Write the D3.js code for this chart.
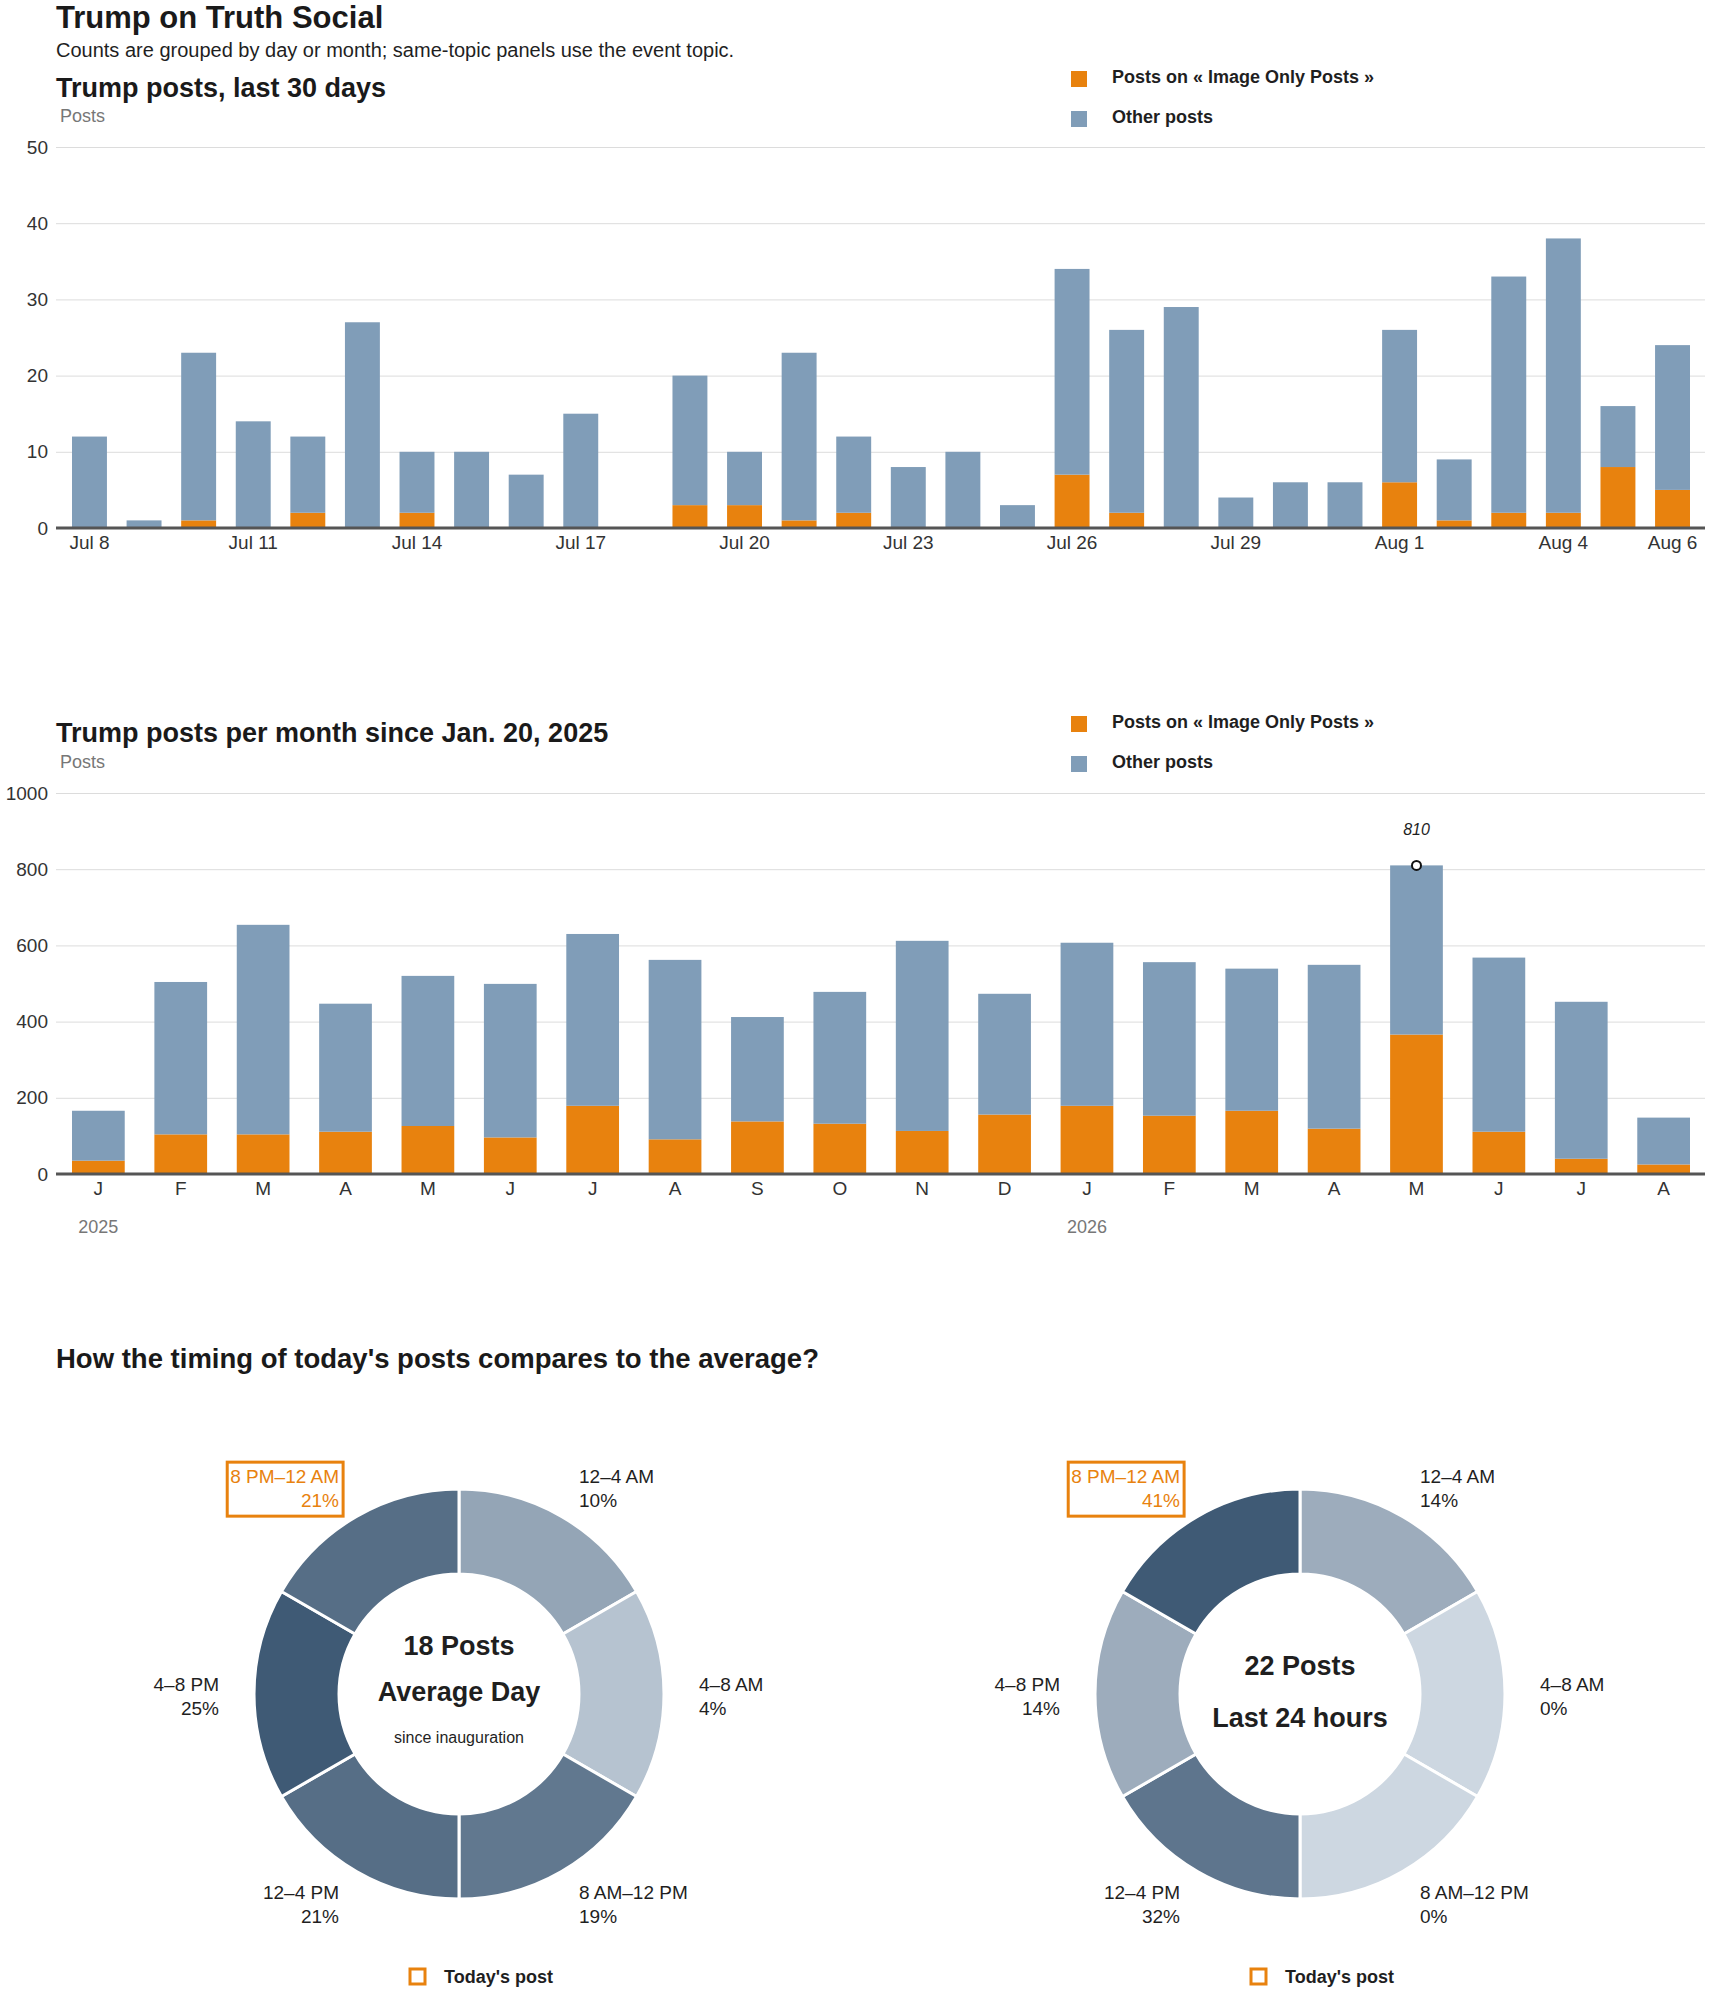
<!DOCTYPE html>
<html>
<head>
<meta charset="utf-8">
<script src="https://cdn.jsdelivr.net/npm/d3@7"></script>
<style>
  body { margin: 0; background: #fff; }
  text { font-family: "Liberation Sans", Arial, sans-serif; fill: #1f1f1f; }
  .head { font-weight: bold; fill: #1a1a1a; }
  .axis-label { fill: #777; font-size: 18px; }
  .tick text { fill: #333; font-size: 19px; }
  .legend text { font-weight: bold; font-size: 18px; }
</style>
</head>
<body>
<div id="chart"></div>
<script>

// last 30 days
var dayLabels = ["Jul 8", "Jul 9", "Jul 10", "Jul 11", "Jul 12", "Jul 13", "Jul 14", "Jul 15", "Jul 16", "Jul 17",
    "Jul 18", "Jul 19", "Jul 20", "Jul 21", "Jul 22", "Jul 23", "Jul 24", "Jul 25", "Jul 26", "Jul 27",
    "Jul 28", "Jul 29", "Jul 30", "Jul 31", "Aug 1", "Aug 2", "Aug 3", "Aug 4", "Aug 5", "Aug 6"];
var dayTicks = ["Jul 8", "Jul 11", "Jul 14", "Jul 17", "Jul 20", "Jul 23", "Jul 26", "Jul 29", "Aug 1", "Aug 4", "Aug 6"];
var dayTopic = [0, 0, 1, 0, 2, 0, 2, 0, 0, 0, 0, 3, 3, 1, 2, 0, 0, 0, 7, 2, 0, 0, 0, 0, 6, 1, 2, 2, 8, 5];
var dayTotal = [12, 1, 23, 14, 12, 27, 10, 10, 7, 15, 0, 20, 10, 23, 12, 8, 10, 3, 34, 26, 29, 4, 6, 6, 26, 9, 33, 38, 16, 24];

// per month since inauguration
var monthKeys = ["2025-01", "2025-02", "2025-03", "2025-04", "2025-05", "2025-06", "2025-07", "2025-08", "2025-09", "2025-10",
    "2025-11", "2025-12", "2026-01", "2026-02", "2026-03", "2026-04", "2026-05", "2026-06", "2026-07", "2026-08"];
var monthLetters = ["J", "F", "M", "A", "M", "J", "J", "A", "S", "O", "N", "D", "J", "F", "M", "A", "M", "J", "J", "A"];
var yearKeys = ["2025-01", "2026-01"];
var yearText = ["2025", "2026"];
var monthTopic = [35, 104, 104, 111, 126, 96, 179, 91, 138, 132, 113, 156, 179, 153, 166, 119, 366, 111, 40, 25];
var monthTotal = [166, 504, 654, 447, 520, 499, 630, 562, 412, 478, 612, 473, 607, 556, 539, 549, 810, 568, 452, 148];

// 4-hour slots for the donuts
var slotLabels = ["12–4 AM", "4–8 AM", "8 AM–12 PM", "12–4 PM", "4–8 PM", "8 PM–12 AM"];
var avgPct = [10, 4, 19, 21, 25, 21];
var todayPct = [14, 0, 0, 32, 14, 41];
var todaySlot = "8 PM–12 AM";

var legendText = ["Posts on « Image Only Posts »", "Other posts"];

var orange = "#e8820e";
var blue = "#809db8";

var svgWidth = 1710;
var svgHeight = 1993;
var plotLeft = 56;
var plotRight = 1705;

var svg = d3.select("#chart")
    .append("svg")
    .attr("width", svgWidth)
    .attr("height", svgHeight);

// headings
svg.append("text").attr("class", "head").attr("x", 56).attr("y", 28)
    .style("font-size", "31px").text("Trump on Truth Social");
svg.append("text").attr("x", 56).attr("y", 57).style("font-size", "20px")
    .text("Counts are grouped by day or month; same-topic panels use the event topic.");
svg.append("text").attr("class", "head").attr("x", 56).attr("y", 97)
    .style("font-size", "27px").text("Trump posts, last 30 days");
svg.append("text").attr("class", "axis-label").attr("x", 60).attr("y", 122).text("Posts");

svg.append("text").attr("class", "head").attr("x", 56).attr("y", 742)
    .style("font-size", "27px").text("Trump posts per month since Jan. 20, 2025");
svg.append("text").attr("class", "axis-label").attr("x", 60).attr("y", 768).text("Posts");

svg.append("text").attr("class", "head").attr("x", 56).attr("y", 1368)
    .style("font-size", "27.5px").text("How the timing of today's posts compares to the average?");

// legend next to each bar chart
function drawLegend(top) {
    var legend = svg.append("g").attr("class", "legend");
    legendText.forEach(function(t, i) {
        legend.append("rect")
            .attr("x", 1071).attr("y", top + i * 40)
            .attr("width", 16).attr("height", 16)
            .attr("fill", i === 0 ? orange : blue);
        legend.append("text")
            .attr("x", 1112).attr("y", top + i * 40 + 12)
            .text(t);
    });
}

// stacked bars: topic posts at the bottom, other posts on top
function drawStacked(keys, topic, total, yMax, yStep, yTop, yZero, tickValues, tickText) {
    var rows = keys.map(function(k, i) {
        return { key: k, topic: topic[i], other: total[i] - topic[i] };
    });
    var series = d3.stack().keys(["topic", "other"])(rows);

    var x = d3.scaleBand()
        .domain(keys)
        .range([72, 1690])
        .paddingInner(0.36)
        .paddingOuter(0);

    var y = d3.scaleLinear()
        .domain([0, yMax])
        .range([yZero, yTop]);

    var yAxis = svg.append("g")
        .attr("transform", `translate(${plotLeft}, 0)`)
        .call(d3.axisLeft(y)
            .tickValues(d3.range(0, yMax + 1, yStep))
            .tickFormat(d3.format("d"))
            .tickSize(-(plotRight - plotLeft))
            .tickPadding(8));
    yAxis.attr("font-size", null).attr("font-family", null);
    yAxis.select(".domain").remove();
    yAxis.selectAll("line").attr("stroke", "#dcdcdc");

    svg.append("g")
        .selectAll("g")
        .data(series)
        .enter()
        .append("g")
        .attr("fill", d => d.key === "topic" ? orange : blue)
        .selectAll("rect")
        .data(d => d)
        .enter()
        .append("rect")
        .attr("x", d => x(d.data.key))
        .attr("y", d => y(d[1]))
        .attr("width", x.bandwidth())
        .attr("height", d => y(d[0]) - y(d[1]));

    svg.append("line")
        .attr("x1", plotLeft).attr("x2", plotRight)
        .attr("y1", y(0)).attr("y2", y(0))
        .attr("stroke", "#555")
        .attr("stroke-width", 3);

    var xAxis = svg.append("g")
        .attr("transform", `translate(0, ${y(0)})`)
        .call(d3.axisBottom(x).tickValues(tickValues).tickSize(0).tickFormat(tickText));
    xAxis.attr("font-size", null).attr("font-family", null);
    xAxis.select(".domain").remove();
    xAxis.selectAll("text").attr("y", 21).attr("dy", null);

    return { x: x, y: y };
}

drawLegend(71);
drawStacked(dayLabels, dayTopic, dayTotal, 50, 10, 147, 528, dayTicks, d => d);

drawLegend(716);
var monthly = drawStacked(monthKeys, monthTopic, monthTotal, 1000, 200, 793, 1174, monthKeys,
    d => monthLetters[monthKeys.indexOf(d)]);

// year labels under January
svg.append("g")
    .selectAll("text")
    .data(yearKeys)
    .enter()
    .append("text")
    .attr("class", "axis-label")
    .attr("text-anchor", "middle")
    .attr("x", d => monthly.x(d) + monthly.x.bandwidth() / 2)
    .attr("y", 1233)
    .text((d, i) => yearText[i]);

// peak month marker
var peak = d3.maxIndex(monthTotal);
var peakX = monthly.x(monthKeys[peak]) + monthly.x.bandwidth() / 2;
svg.append("circle")
    .attr("cx", peakX)
    .attr("cy", monthly.y(monthTotal[peak]))
    .attr("r", 4.5)
    .attr("fill", "#fff")
    .attr("stroke", "#111")
    .attr("stroke-width", 2);
svg.append("text")
    .attr("x", peakX)
    .attr("y", monthly.y(monthTotal[peak]) - 30)
    .attr("text-anchor", "middle")
    .style("font-style", "italic")
    .style("font-size", "16px")
    .text(monthTotal[peak]);

// donut of posting time slots, all slots same size, shade by share
function drawDonut(cx, cy, pct, lines) {
    var color = d3.scaleLinear()
        .domain([0, d3.max(pct)])
        .range(["#cdd7e1", "#3f5a75"]);

    var pie = d3.pie().value(1).sort(null);
    var arcs = pie(slotLabels.map((s, i) => ({ slot: s, pct: pct[i] })));
    var arc = d3.arc().innerRadius(120).outerRadius(205);

    var g = svg.append("g").attr("transform", `translate(${cx}, ${cy})`);

    g.selectAll("path")
        .data(arcs)
        .enter()
        .append("path")
        .attr("d", arc)
        .attr("fill", d => color(d.data.pct))
        .attr("stroke", "#fff")
        .attr("stroke-width", 3);

    arcs.forEach(function(d) {
        var a = (d.startAngle + d.endAngle) / 2;
        var lx = 240 * Math.sin(a);
        var ly = -240 * Math.cos(a);
        var hot = d.data.slot === todaySlot;
        var label = g.append("text")
            .attr("text-anchor", Math.sin(a) > 0 ? "start" : "end")
            .style("font-size", "19px")
            .style("fill", hot ? orange : "#1f1f1f");
        label.append("tspan").attr("x", lx).attr("y", ly - 3).text(d.data.slot);
        label.append("tspan").attr("x", lx).attr("y", ly + 21).text(d.data.pct + "%");
        if (hot) {
            var bb = label.node().getBBox();
            g.append("rect")
                .attr("x", bb.x - 3)
                .attr("y", bb.y - 4)
                .attr("width", bb.width + 7)
                .attr("height", bb.height + 9)
                .attr("fill", "none")
                .attr("stroke", orange)
                .attr("stroke-width", 3);
        }
    });

    lines.forEach(function(l) {
        g.append("text")
            .attr("text-anchor", "middle")
            .attr("y", l.dy)
            .style("font-size", l.size + "px")
            .style("font-weight", l.bold ? "bold" : "normal")
            .text(l.text);
    });

    // today's post key
    g.append("rect")
        .attr("x", -49).attr("y", 275)
        .attr("width", 15).attr("height", 15)
        .attr("fill", "none")
        .attr("stroke", orange)
        .attr("stroke-width", 3);
    g.append("text")
        .attr("x", -15).attr("y", 289)
        .style("font-size", "18px")
        .style("font-weight", "bold")
        .text("Today's post");
}

drawDonut(459, 1694, avgPct, [
    { text: "18 Posts", dy: -39, size: 27, bold: true },
    { text: "Average Day", dy: 7, size: 27, bold: true },
    { text: "since inauguration", dy: 49, size: 16, bold: false }
]);
drawDonut(1300, 1694, todayPct, [
    { text: "22 Posts", dy: -19, size: 27, bold: true },
    { text: "Last 24 hours", dy: 33, size: 27, bold: true }
]);

</script>
</body>
</html>
